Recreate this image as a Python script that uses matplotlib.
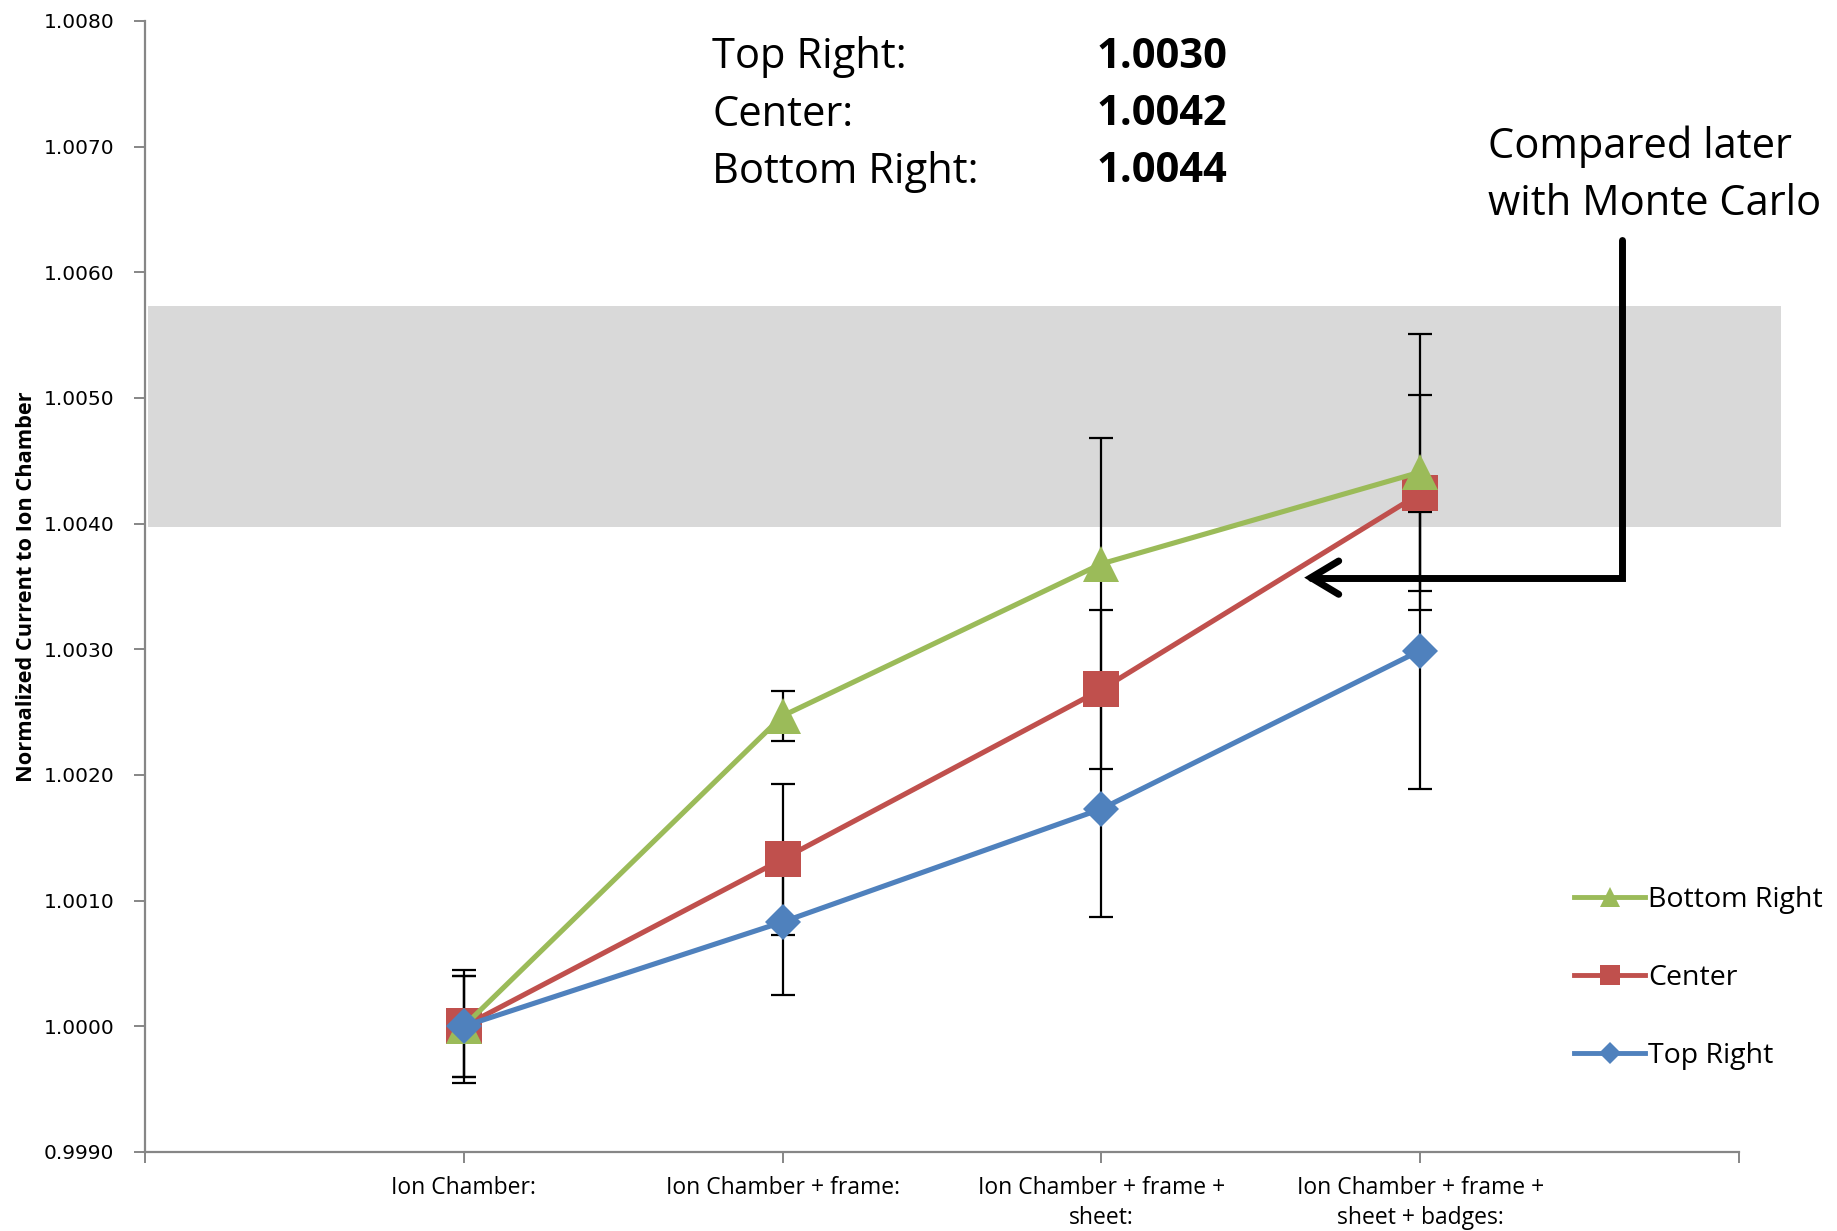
import matplotlib.pyplot as plt
from matplotlib.lines import Line2D
from matplotlib.patches import Rectangle

# measurement stages along the x axis
stages = ["Ion Chamber:", "Ion Chamber + frame:", "Ion Chamber + frame +\nsheet:",
          "Ion Chamber + frame +\nsheet + badges:"]
positions = [1, 2, 3, 4]

# normalized current per detector position
bottom_right = [1.0000, 1.00247, 1.00368, 1.00441]
center = [1.0000, 1.00133, 1.00268, 1.00424]
top_right = [1.0000, 1.00083, 1.00173, 1.00299]

# one-sigma uncertainties
bottom_right_err = [0.00045, 0.00020, 0.00100, 0.00110]
center_err = [0.00040, 0.00060, 0.00063, 0.00078]
top_right_err = [0.00040, 0.00058, 0.00086, 0.00110]

# final values quoted in the header
final_labels = ["Top Right:", "Center:", "Bottom Right:"]
final_values = [1.0030, 1.0042, 1.0044]

# expected range band
band_low, band_high = 1.00397, 1.00573

GREEN = "#9BBB59"
RED = "#C0504D"
BLUE = "#4F81BD"
AXIS_GRAY = "#868686"

plt.rcParams["font.family"] = ["Open Sans", "DejaVu Sans"]

fig = plt.figure(figsize=(18.37, 12.31), dpi=100)
ax = fig.add_axes([0.0789, 0.0642, 0.8678, 0.9188])

ax.add_patch(Rectangle((0.011, band_low), 5.12, band_high - band_low,
                       facecolor="#D9D9D9", edgecolor="none", zorder=0, clip_on=False))

series = [
    ("Center", center, center_err, RED, "s", 26, 3),
    ("Bottom Right", bottom_right, bottom_right_err, GREEN, "^", 26, 4),
    ("Top Right", top_right, top_right_err, BLUE, "D", 18, 5),
]
for name, vals, errs, color, marker, ms, z in series:
    ax.errorbar(positions, vals, yerr=errs, fmt="none", ecolor="black",
                elinewidth=1.6, capsize=8.5, capthick=1.6, zorder=2)
    ax.plot(positions, vals, color=color, lw=3.7, marker=marker, ms=ms,
            markeredgewidth=0, zorder=z, clip_on=False)

ax.set_xlim(0, 5)
ax.set_ylim(0.9990, 1.0080)
ax.set_xticks(range(6))
ax.set_xticklabels([""] + stages + [""], fontsize=16.5, linespacing=1.38)
ax.set_yticks([0.9990 + 0.001 * i for i in range(10)])
ax.yaxis.set_major_formatter(plt.FormatStrFormatter("%.4f"))
for lab in ax.get_yticklabels():
    lab.set_family("DejaVu Sans")
    lab.set_fontsize(14.5)

for side in ["top", "right"]:
    ax.spines[side].set_visible(False)
for side in ["left", "bottom"]:
    ax.spines[side].set_color(AXIS_GRAY)
    ax.spines[side].set_linewidth(1.6)
ax.tick_params(axis="both", direction="out", color=AXIS_GRAY, width=1.4, length=8)
ax.tick_params(axis="x", pad=9)
ax.tick_params(axis="y", pad=14)

ax.set_ylabel("Normalized Current to Ion Chamber", fontsize=15.7, fontweight="bold",
              labelpad=5)

# header with the final values
for i, (lab, val) in enumerate(zip(final_labels, final_values)):
    y = 1.00771 - i * 0.000455
    ax.text(1.779, y, lab, fontsize=30, va="center", ha="left")
    ax.text(2.985, y, f"{val:.4f}", fontsize=30, fontweight="bold", va="center", ha="left")

ax.text(4.213, 1.00677, "Compared later\nwith Monte Carlo", fontsize=30, va="center",
        ha="left", linespacing=1.48, clip_on=False)

ax.annotate("", xy=(3.636, 1.00357), xytext=(4.632, 1.00626),
            arrowprops=dict(arrowstyle="->,head_length=1.0,head_width=0.6",
                            connectionstyle="angle,angleA=90,angleB=0,rad=0",
                            color="black", lw=5, shrinkA=0, shrinkB=0,
                            mutation_scale=20, capstyle="round", joinstyle="miter"),
            zorder=6, annotation_clip=False)

handles = [
    Line2D([], [], color=GREEN, lw=3.5, marker="^", ms=15, markeredgewidth=0),
    Line2D([], [], color=RED, lw=3.5, marker="s", ms=14, markeredgewidth=0),
    Line2D([], [], color=BLUE, lw=3.5, marker="D", ms=11, markeredgewidth=0),
]
fig.legend(handles, ["Bottom Right", "Center", "Top Right"], loc="upper left",
           bbox_to_anchor=(1560 / 1837, 1 - 872 / 1231), frameon=False, fontsize=20.5,
           handlelength=2.5, handletextpad=0.1, labelspacing=1.76, borderpad=0)

fig.savefig("out.png", dpi=100)
